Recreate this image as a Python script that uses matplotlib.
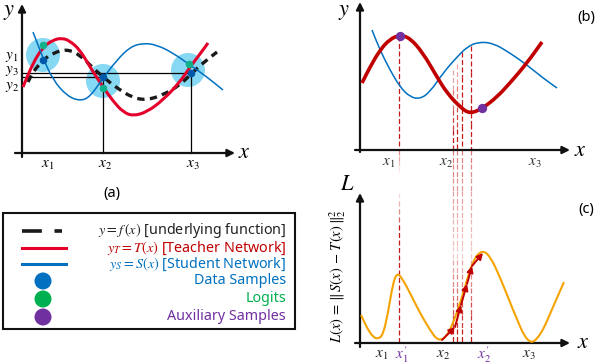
import numpy as np
import matplotlib
matplotlib.use("Agg")
import matplotlib.pyplot as plt
from matplotlib.path import Path
from matplotlib.patches import PathPatch, Circle, Rectangle

plt.rcParams["font.family"] = ["Noto Sans", "DejaVu Sans"]
plt.rcParams["mathtext.fontset"] = "stix"

# colours
RED = "#e4002b"
DRED = "#c00000"
BLUE = "#0070c0"
LBLUE = "#5fcbf0"
GREEN = "#00b050"
PURPLE = "#7030a0"
ORANGE = "#f5a300"

# ---- panel (a): curves (figure pixel coordinates) ----
a_red_x = [23, 33, 43, 53, 62, 70, 80, 90, 103, 113, 123, 133, 147, 163, 180, 190, 200, 208]
a_red_y = [87, 63, 47, 40, 38, 41, 50, 67, 87, 101, 112, 116, 112, 100, 82, 67, 54, 43]
a_blue_x = [33, 38, 43, 53, 67, 80, 90, 103, 117, 130, 143, 157, 173, 190, 207, 223]
a_blue_y = [32, 45, 58, 80, 96, 101, 97, 78, 60, 47, 43, 45, 53, 65, 77, 90]
a_true_x = [28, 33, 43, 53, 67, 80, 92, 103, 117, 133, 147, 163, 180, 192, 203, 217]
a_true_y = [82, 72, 60, 53, 49, 55, 67, 77, 88, 98, 100, 95, 85, 73, 63, 52]
a_halo_x = [43, 103, 188]
a_halo_y = [55, 81, 70]
a_data_x = [43, 103, 191]
a_data_y = [60, 77, 73]
a_logit_x = [43, 103, 189]
a_logit_y = [45, 88, 64]

# ---- panel (b) ----
b_red_x = [362, 370, 380, 390, 400, 410, 423, 437, 447, 460, 470, 483, 497, 510, 527, 542]
b_red_y = [83, 67, 50, 39, 35, 38, 53, 77, 93, 107, 114, 108, 97, 83, 63, 42]
b_blue_x = [372, 380, 390, 400, 410, 420, 430, 443, 457, 467, 478, 493, 510, 527, 543, 557]
b_blue_y = [30, 50, 70, 87, 97, 99, 92, 73, 57, 47, 42, 43, 53, 65, 78, 88]
b_aux_x = [400, 482]
b_aux_y = [36, 108]
b_drop_x = [453, 457, 462, 471]
b_drop_top = [70, 64, 52, 46]

# ---- panel (c) ----
c_loss_x = [361, 367, 373, 378, 383, 388, 393, 397, 402, 410, 420, 430, 438, 447, 457,
            465, 473, 482, 490, 500, 513, 528, 540, 553, 564]
c_loss_y = [315, 328, 337, 339, 335, 313, 283, 273, 278, 293, 313, 330, 341, 337, 313,
            287, 260, 250, 256, 277, 310, 345, 337, 307, 282]
c_step_x = [442, 455, 461, 467, 472, 483]
c_step_y = [340, 327, 305, 284, 266, 253]
c_aux1_x = 399

legend_labels = [r"$y = f\,(x)$ [underlying function]",
                 r"$y_T = T(x)$ [Teacher Network]",
                 r"$y_S = S(x)$ [Student Network]",
                 "Data Samples", "Logits", "Auxiliary Samples"]
legend_colors = ["#222222", DRED, BLUE, BLUE, GREEN, PURPLE]


def smooth(ax, xs, ys, **kw):
    # quadratic B-spline drawn by the path renderer
    pts = np.column_stack([xs, ys]).astype(float)
    mids = (pts[:-1] + pts[1:]) / 2
    verts = [pts[0], mids[0]]
    codes = [Path.MOVETO, Path.LINETO]
    for i in range(1, len(pts) - 1):
        verts += [pts[i], mids[i]]
        codes += [Path.CURVE3, Path.CURVE3]
    verts.append(pts[-1])
    codes.append(Path.LINETO)
    ax.add_patch(PathPatch(Path(verts, codes), fill=False, capstyle="butt", **kw))


def axis_arrow(ax, x0, y0, x1, y1):
    ax.annotate("", xy=(x1, y1), xytext=(x0, y0),
                arrowprops=dict(arrowstyle="-|>", color="#111111", lw=1.6,
                                mutation_scale=11, shrinkA=0, shrinkB=0))


def faded_dash(ax, x, y0, y1, a0, a1, n=8):
    ys = np.linspace(y0, y1, n + 1)
    al = np.linspace(a0, a1, n)
    for k in range(n):
        ax.plot([x, x], [ys[k], ys[k + 1]], color=DRED, alpha=al[k], lw=0.9,
                ls=(0, (4, 2)))


fig = plt.figure(figsize=(5.96, 3.64), dpi=100)
ax = fig.add_axes([0, 0, 1, 1])
ax.set_xlim(0, 596)
ax.set_ylim(364, 0)
ax.axis("off")

# ===== panel (a) =====
for cx, cy in zip(a_halo_x, a_halo_y):
    ax.add_patch(Circle((cx, cy), 17, color=LBLUE, alpha=0.75, lw=0, zorder=1))
ax.plot([22, a_data_x[2]], [a_data_y[2], a_data_y[2]], color="k", lw=0.9, zorder=2)
ax.plot([22, a_data_x[1]], [a_data_y[1], a_data_y[1]], color="k", lw=0.9, zorder=2)
ax.plot([a_data_x[1]] * 2, [a_data_y[1], 153], color="k", lw=0.9, zorder=2)
ax.plot([a_data_x[2]] * 2, [a_data_y[2], 153], color="k", lw=0.9, zorder=2)
smooth(ax, a_true_x, a_true_y, color="#1a1a1a", lw=2.4, ls=(0, (2.2, 1.6)), zorder=3)
smooth(ax, a_red_x, a_red_y, color=RED, lw=2.2, zorder=4)
smooth(ax, a_blue_x, a_blue_y, color=BLUE, lw=1.1, zorder=5)
ax.scatter(a_logit_x, a_logit_y, s=30, color="#10b08a", zorder=6, lw=0)
ax.scatter(a_data_x, a_data_y, s=30, color="#0058a8", zorder=6, lw=0)
axis_arrow(ax, 22, 157, 22, 4)
axis_arrow(ax, 15, 153, 235, 153)
ax.text(9, 12, "$y$", fontsize=16, va="center", ha="center")
ax.text(244, 153, "$x$", fontsize=16, va="center", ha="center")
for lab, yy in [("$y_1$", 56), ("$y_3$", 71), ("$y_2$", 86)]:
    ax.text(12, yy, lab, fontsize=11, va="center", ha="center")
for lab, xx in [("$x_1$", 48), ("$x_2$", 105), ("$x_3$", 193)]:
    ax.text(xx, 164, lab, fontsize=11, va="center", ha="center")
ax.text(112, 194, "(a)", fontsize=10.5, va="center", ha="center")

# ===== panel (b) =====
faded_dash(ax, c_aux1_x, b_aux_y[0], 150, 0.9, 0.9, n=1)
faded_dash(ax, c_aux1_x, 150, 172, 0.45, 0.1, n=4)
for xx, yt in zip(b_drop_x, b_drop_top):
    faded_dash(ax, xx, yt, 150, 0.35 if xx < 460 else 0.9, 0.9, n=4)
    faded_dash(ax, xx, 150, 260, 0.5, 0.2, n=8)
    faded_dash(ax, xx, 260, 343, 0.35, 0.9, n=6)
smooth(ax, b_blue_x, b_blue_y, color=BLUE, lw=1.1, zorder=4)
smooth(ax, b_red_x, b_red_y, color=DRED, lw=2.6, zorder=5)
ax.scatter(b_aux_x, b_aux_y, s=45, color=PURPLE, zorder=6, lw=0)
axis_arrow(ax, 360, 152, 360, 2)
axis_arrow(ax, 355, 150, 570, 150)
ax.text(344, 11, "$y$", fontsize=16, va="center", ha="center")
ax.text(580, 151, "$x$", fontsize=16, va="center", ha="center")
ax.text(586, 17, "(b)", fontsize=10.5, va="center", ha="center")
for lab, xx in [("$x_1$", 389), ("$x_2$", 446), ("$x_3$", 535)]:
    ax.text(xx, 162, lab, fontsize=11, va="center", ha="center", color="#333333")

# ===== panel (c) =====
faded_dash(ax, c_aux1_x, 193, 225, 0.15, 0.6, n=4)
faded_dash(ax, c_aux1_x, 225, 343, 0.9, 0.9, n=1)
smooth(ax, c_loss_x, c_loss_y, color=ORANGE, lw=1.5, zorder=4)
for k in range(len(c_step_x) - 1):
    ax.annotate("", xy=(c_step_x[k + 1], c_step_y[k + 1]),
                xytext=(c_step_x[k], c_step_y[k]),
                arrowprops=dict(arrowstyle="-|>", color=DRED, lw=1.4,
                                mutation_scale=9, shrinkA=0, shrinkB=0), zorder=6)
axis_arrow(ax, 360, 347, 360, 193)
axis_arrow(ax, 355, 343, 570, 343)
ax.text(347, 185, "$L$", fontsize=16, va="center", ha="center")
ax.text(583, 343, "$x$", fontsize=16, va="center", ha="center")
ax.text(586, 210, "(c)", fontsize=10.5, va="center", ha="center")
ax.text(338, 276, r"$L(x)\,=\,\Vert\,S(x)\,-\,T(x)\,\Vert_2^2$", fontsize=10.5,
        rotation=90, va="center", ha="center")
for lab, xx, col in [("$x_1$", 382, "#222222"), (r"$x^{\prime}_{1}$", 402, PURPLE),
                     ("$x_2$", 443, "#222222"), (r"$x^{\prime}_{2}$", 484, PURPLE),
                     ("$x_3$", 529, "#222222")]:
    ax.text(xx, 355, lab, fontsize=11, va="center", ha="center", color=col)

# ===== legend box =====
ax.add_patch(Rectangle((3, 213), 292, 116, fill=False, lw=1.5, ec="#111111"))
row_y = [230.5, 248, 264, 281, 299, 317]
ax.plot([22, 62], [row_y[0]] * 2, color="#1a1a1a", lw=2.6, ls=(0, (5.5, 3.5)))
ax.plot([22, 66], [row_y[1]] * 2, color=RED, lw=2.2)
ax.plot([22, 66], [row_y[2]] * 2, color=BLUE, lw=2.2)
ax.scatter([43] * 3, row_y[3:], s=150, color=[BLUE, GREEN, PURPLE], lw=0)
for lab, yy, col in zip(legend_labels, row_y, legend_colors):
    ax.text(286, yy, lab, fontsize=10.3, va="center", ha="right", color=col)

fig.savefig("out.png", dpi=100)
